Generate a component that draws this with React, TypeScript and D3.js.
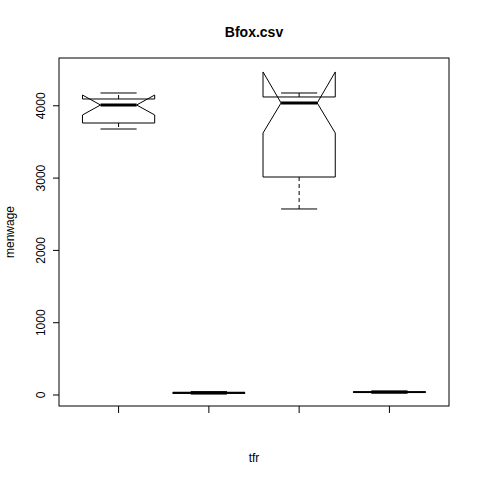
import React from 'react';
import * as d3 from 'd3';

const groups = [1, 2, 3, 4];
const lowWhisker = [3679, 15, 2573, 28];
const q1 = [3762, 22, 3015, 34];
const nLo = [3873, 26, 3624, 38];
const median = [4011, 30, 4039, 40];
const nHi = [4149, 34, 4468, 42];
const q3 = [4094, 38, 4122, 46];
const highWhisker = [4177, 44, 4177, 52];
const yTicks = [0, 1000, 2000, 3000, 4000];

const App: React.FC = () => {
  const W = 480, H = 480;
  const L = 59, R = 449, T = 58, B = 406;
  const x = d3.scaleLinear().domain([0.34, 4.66]).range([L, R]);
  const y = d3.scaleLinear().domain([-152, 4661]).range([B, T]);
  const w = x(1.4) - x(1);
  const font = 'Liberation Sans, Arial, sans-serif';
  return (
    <svg width={W} height={H} style={{ position: 'absolute', left: 0, top: 0 }} fontFamily={font}>
      <rect width={W} height={H} fill="#fff" />
      <text x={254} y={37} textAnchor="middle" fontSize={14} fontWeight="bold">Bfox.csv</text>
      <text x={254} y={462} textAnchor="middle" fontSize={12}>tfr</text>
      <text transform={`translate(14,${(T + B) / 2}) rotate(-90)`} textAnchor="middle" fontSize={12}>menwage</text>
      <rect x={L} y={T} width={R - L} height={B - T} fill="none" stroke="#000" />
      {yTicks.map(t => (
        <g key={t}>
          <line x1={L} x2={L - 6} y1={y(t)} y2={y(t)} stroke="#000" />
          <text transform={`translate(${L - 14},${y(t)}) rotate(-90)`} textAnchor="middle" fontSize={12}>{t}</text>
        </g>
      ))}
      {groups.map(g => (
        <line key={g} x1={x(g)} x2={x(g)} y1={B} y2={B + 7} stroke="#000" />
      ))}
      {groups.map((g, i) => {
        const cx = x(g);
        const pts: [number, number][] = [
          [cx - w, y(q1[i])], [cx - w, y(nLo[i])], [cx - w / 2, y(median[i])], [cx - w, y(nHi[i])],
          [cx - w, y(q3[i])], [cx + w, y(q3[i])], [cx + w, y(nHi[i])], [cx + w / 2, y(median[i])],
          [cx + w, y(nLo[i])], [cx + w, y(q1[i])],
        ];
        return (
          <g key={g}>
            <line x1={cx} x2={cx} y1={y(q1[i])} y2={y(lowWhisker[i])} stroke="#000" strokeDasharray="4,3" />
            <line x1={cx} x2={cx} y1={y(q3[i])} y2={y(highWhisker[i])} stroke="#000" strokeDasharray="4,3" />
            <line x1={cx - w / 2} x2={cx + w / 2} y1={y(lowWhisker[i])} y2={y(lowWhisker[i])} stroke="#000" />
            <line x1={cx - w / 2} x2={cx + w / 2} y1={y(highWhisker[i])} y2={y(highWhisker[i])} stroke="#000" />
            <polygon points={pts.map(p => p.join(',')).join(' ')} fill="none" stroke="#000" />
            <line x1={cx - w / 2} x2={cx + w / 2} y1={y(median[i])} y2={y(median[i])} stroke="#000" strokeWidth={3} />
          </g>
        );
      })}
    </svg>
  );
};

export default App;
